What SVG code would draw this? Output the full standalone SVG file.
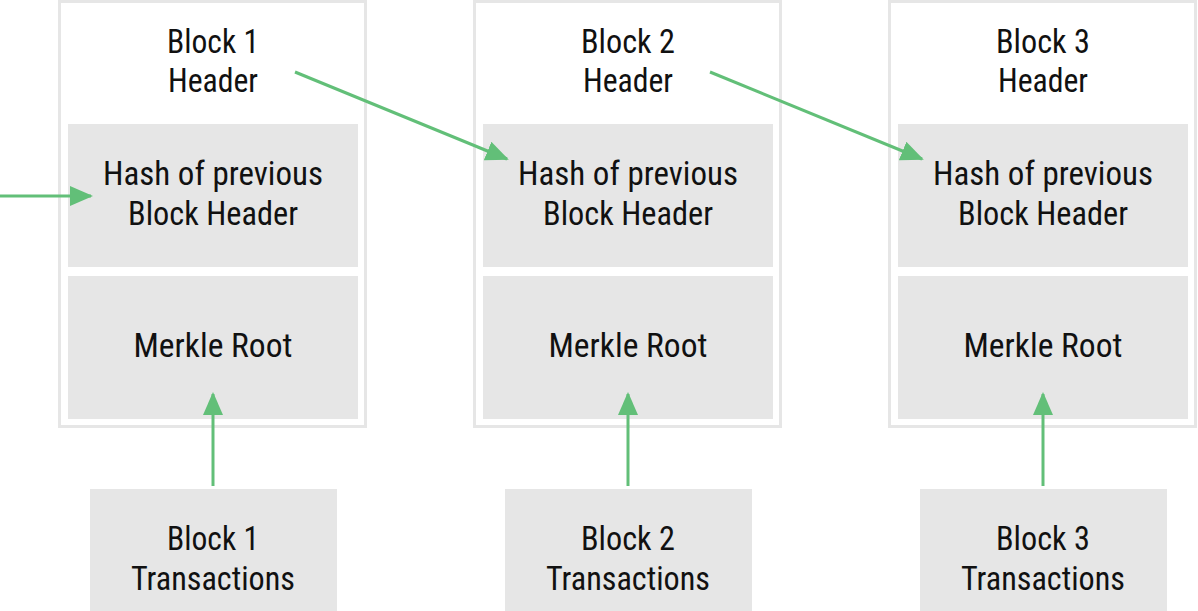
<svg xmlns="http://www.w3.org/2000/svg" width="1198" height="611" viewBox="0 0 1198 611">
<style>
.outer{fill:#fff;stroke:#e6e6e6;stroke-width:3}
.box{fill:#e6e6e6}
text{font-family:"Liberation Sans Narrow","Roboto Condensed",Roboto,"Liberation Sans",sans-serif;font-size:33px;fill:#111;text-anchor:middle}
.conn{stroke:#62bf78;stroke-width:3;fill:none;marker-end:url(#ah)}
</style>
<defs>
<marker id="ah" markerUnits="userSpaceOnUse" markerWidth="24" markerHeight="20" refX="21" refY="10" orient="auto">
<path d="M0,0 L23,10 L0,20 Z" fill="#62bf78"/>
</marker>
</defs>
<rect width="1198" height="611" fill="#fff"/>
<g id="block1">
<rect class="outer" x="59.5" y="1.5" width="306" height="425"/>
<text x="213" y="53" textLength="92" lengthAdjust="spacingAndGlyphs">Block 1</text>
<text x="213" y="92" textLength="90" lengthAdjust="spacingAndGlyphs">Header</text>
</g>
<g id="hash1">
<rect class="box" x="68" y="124" width="290" height="143"/>
<text x="213" y="185" textLength="220" lengthAdjust="spacingAndGlyphs">Hash of previous</text>
<text x="213" y="225" textLength="170" lengthAdjust="spacingAndGlyphs">Block Header</text>
</g>
<g id="merkle1">
<rect class="box" x="68" y="276" width="290" height="143"/>
<text x="213" y="357" textLength="159" lengthAdjust="spacingAndGlyphs">Merkle Root</text>
</g>
<g id="tx1">
<rect class="box" x="90" y="489" width="247" height="122"/>
<text x="213" y="550" textLength="92" lengthAdjust="spacingAndGlyphs">Block 1</text>
<text x="213" y="590" textLength="164" lengthAdjust="spacingAndGlyphs">Transactions</text>
</g>
<g id="block2">
<rect class="outer" x="474.5" y="1.5" width="306" height="425"/>
<text x="628" y="53" textLength="94" lengthAdjust="spacingAndGlyphs">Block 2</text>
<text x="628" y="92" textLength="90" lengthAdjust="spacingAndGlyphs">Header</text>
</g>
<g id="hash2">
<rect class="box" x="483" y="124" width="290" height="143"/>
<text x="628" y="185" textLength="220" lengthAdjust="spacingAndGlyphs">Hash of previous</text>
<text x="628" y="225" textLength="170" lengthAdjust="spacingAndGlyphs">Block Header</text>
</g>
<g id="merkle2">
<rect class="box" x="483" y="276" width="290" height="143"/>
<text x="628" y="357" textLength="159" lengthAdjust="spacingAndGlyphs">Merkle Root</text>
</g>
<g id="tx2">
<rect class="box" x="505" y="489" width="247" height="122"/>
<text x="628" y="550" textLength="94" lengthAdjust="spacingAndGlyphs">Block 2</text>
<text x="628" y="590" textLength="164" lengthAdjust="spacingAndGlyphs">Transactions</text>
</g>
<g id="block3">
<rect class="outer" x="889.5" y="1.5" width="306" height="425"/>
<text x="1043" y="53" textLength="94" lengthAdjust="spacingAndGlyphs">Block 3</text>
<text x="1043" y="92" textLength="90" lengthAdjust="spacingAndGlyphs">Header</text>
</g>
<g id="hash3">
<rect class="box" x="898" y="124" width="290" height="143"/>
<text x="1043" y="185" textLength="220" lengthAdjust="spacingAndGlyphs">Hash of previous</text>
<text x="1043" y="225" textLength="170" lengthAdjust="spacingAndGlyphs">Block Header</text>
</g>
<g id="merkle3">
<rect class="box" x="898" y="276" width="290" height="143"/>
<text x="1043" y="357" textLength="159" lengthAdjust="spacingAndGlyphs">Merkle Root</text>
</g>
<g id="tx3">
<rect class="box" x="920" y="489" width="247" height="122"/>
<text x="1043" y="550" textLength="94" lengthAdjust="spacingAndGlyphs">Block 3</text>
<text x="1043" y="590" textLength="164" lengthAdjust="spacingAndGlyphs">Transactions</text>
</g>
<g id="connectors">
<line class="conn" x1="0" y1="196" x2="91" y2="196"/>
<line class="conn" x1="295" y1="72" x2="507" y2="159"/>
<line class="conn" x1="710" y1="72" x2="922" y2="159"/>
<line class="conn" x1="213" y1="486" x2="213" y2="394"/>
<line class="conn" x1="628" y1="486" x2="628" y2="394"/>
<line class="conn" x1="1043" y1="486" x2="1043" y2="394"/>
</g>
</svg>
